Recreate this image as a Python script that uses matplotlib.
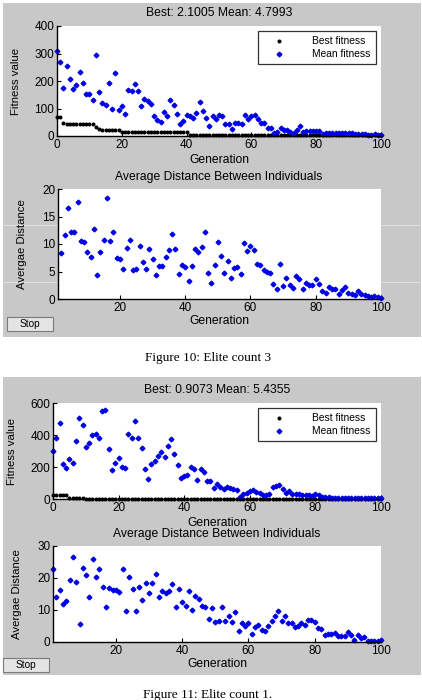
import numpy as np
import matplotlib
matplotlib.use("Agg")
import matplotlib.pyplot as plt
from matplotlib.patches import Rectangle
import matplotlib.lines as mlines

plt.rcParams['font.family'] = ['Liberation Sans', 'DejaVu Sans']

# Figure 10: Elite count 3
best1 = [70, 70, 48] + [42] * 9 + [32, 25] + [22] * 6 + [13] * 21 + [5] * 19 + [3] * 41
mean1 = [309, 268, 173, 255, 206, 171, 185, 234, 192, 152, 152, 131, 295, 161, 121, 111, 192, 99, 228, 95,
         109, 79, 167, 164, 188, 164, 109, 133, 127, 115, 73, 58, 52, 86, 74, 131, 113, 79, 42, 55,
         76, 74, 65, 82, 122, 91, 67, 38, 72, 61, 75, 73, 45, 45, 24, 47, 46, 42, 75, 63,
         72, 75, 61, 46, 48, 28, 30, 10, 16, 30, 22, 22, 16, 12, 22, 36, 16, 18, 19, 19,
         19, 19, 8, 12, 10, 12, 11, 12, 10, 12, 11, 10, 9, 8, 9, 6, 5, 5, 7, 5, 4.8]
dist1 = [8.3, 11.7, 16.5, 12.2, 12.2, 17.6, 10.6, 10.4, 8.6, 7.6, 12.7, 4.3, 8.6, 10.7, 18.4, 10.6,
         12.1, 7.5, 7.3, 5.5, 9.3, 10.7, 5.2, 5.5, 9.7, 6.7, 5.5, 9.1, 7.3, 4.4, 6.0, 6.0, 7.7, 9.0,
         11.8, 9.1, 4.5, 6.2, 5.9, 3.2, 6.0, 9.1, 8.6, 9.5, 12.2, 4.7, 2.9, 6.2, 10.3, 7.9, 4.7, 7.0,
         3.9, 5.7, 5.9, 4.5, 10.2, 8.8, 9.7, 8.9, 6.3, 6.1, 5.2, 5.0, 4.8, 2.7, 1.9, 6.3, 2.4, 3.8,
         2.5, 2.0, 4.1, 3.6, 1.9, 2.9, 2.6, 2.6, 3.7, 2.7, 1.4, 1.1, 2.1, 1.9, 1.9, 0.9, 1.6, 2.1,
         1.1, 0.85, 0.8, 1.4, 1.0, 0.7, 0.6, 0.4, 0.6, 0.4, 0.25]

# Figure 11: Elite count 1
best2 = [24] * 5 + [6] * 5 + [1] * 91
mean2 = [300, 379, 477, 217, 196, 248, 227, 364, 504, 462, 327, 348, 400, 404, 379, 550, 554, 310, 181, 227,
         258, 200, 196, 404, 383, 487, 383, 321, 185, 123, 217, 238, 267, 292, 263, 331, 373, 279, 210, 133,
         144, 148, 200, 185, 121, 190, 167, 113, 110, 67, 96, 75, 60, 75, 70, 63, 59, 15, 31, 35,
         48, 59, 44, 38, 27, 27, 30, 75, 81, 90, 65, 40, 48, 31, 29, 29, 27, 25, 25, 21,
         31, 25, 15, 10, 10, 8, 8, 7, 8, 7, 8, 6, 6, 6, 5, 6, 5, 5, 6, 5, 5.4]
dist2 = [22.7, 14.0, 16.2, 12.0, 12.8, 19.3, 26.5, 18.9, 5.7, 23.1, 20.9, 14.0, 26.0, 20.4, 22.9, 17.1,
         11.0, 16.8, 16.2, 16.2, 15.7, 22.7, 9.8, 20.2, 16.6, 9.6, 17.3, 13.0, 18.5, 15.3, 18.5, 21.4,
         14.0, 15.8, 15.3, 15.8, 18.2, 10.8, 16.7, 12.5, 11.2, 16.0, 10.1, 14.5, 13.3, 11.1, 10.8, 7.2,
         10.6, 6.1, 6.7, 10.8, 6.7, 8.2, 6.1, 9.4, 3.3, 5.8, 5.1, 6.0, 2.6, 4.6, 5.2, 3.8, 3.5, 5.0,
         6.7, 8.0, 9.6, 6.5, 8.0, 5.8, 6.0, 4.6, 5.1, 5.9, 5.2, 6.8, 6.8, 6.4, 4.3, 4.1, 2.3, 2.5,
         2.4, 2.7, 1.9, 2.0, 2.0, 3.0, 2.3, 0.7, 2.3, 1.2, 1.7, 0.4, 0.4, 0.4, 0.4, 0.6]

titles = ["Best: 2.1005 Mean: 4.7993", "Best: 0.9073 Mean: 5.4355"]
captions = ["Figure 10: Elite count 3", "Figure 11: Elite count 1."]

W, H = 422.0, 700.0
fig = plt.figure(figsize=(4.22, 7.0), dpi=100)
fig.patch.set_facecolor("white")

def fx(x):
    return x / W

def fy(y):
    return 1 - y / H

# gray window backgrounds
fig.patches.append(Rectangle((fx(3), fy(337)), fx(418), 334 / H, transform=fig.transFigure,
                             facecolor="#c8c8c8", edgecolor="none", zorder=-2))
fig.patches.append(Rectangle((fx(3), fy(675)), fx(418), 298 / H, transform=fig.transFigure,
                             facecolor="#c8c8c8", edgecolor="none", zorder=-2))
# faint scan lines
for yy in [225, 282]:
    fig.add_artist(mlines.Line2D([fx(3), fx(421)], [fy(yy), fy(yy)], transform=fig.transFigure,
                                 color="white", lw=0.6, alpha=0.5, zorder=-1))

def style_ax(ax):
    ax.set_zorder(2)
    ax.set_facecolor("white")
    ax.spines["top"].set_visible(False)
    ax.spines["right"].set_visible(False)
    ax.spines["left"].set_linewidth(1.0)
    ax.spines["bottom"].set_linewidth(1.0)
    ax.tick_params(direction="in", length=3, width=0.8, labelsize=8.5, pad=2, colors="black")

def add_ax(x0, y0, x1, y1):
    return fig.add_axes([fx(x0), fy(y1), (x1 - x0) / W, (y1 - y0) / H])

blue = "#0000e6"
panels = [
    (best1, mean1, dist1, (57, 26, 381, 136), (58, 189, 381, 299), 400, [0, 100, 200, 300, 400], 20,
     [0, 5, 10, 15, 20], 0),
    (best2, mean2, dist2, (53, 403, 381, 499), (53, 546, 381, 642), 600, [0, 200, 400, 600], 30,
     [0, 10, 20, 30], 1),
]

for best, mean, dist, box1, box2, ymax, yt, dmax, dt, k in panels:
    gens = np.arange(len(mean))
    ax = add_ax(*box1)
    style_ax(ax)
    ax.plot(gens, best, linestyle="None", marker="o", ms=1.9, color="black", label="Best fitness", clip_on=False)
    ax.plot(gens, mean, linestyle="None", marker="D", ms=2.4, color=blue, label="Mean fitness", clip_on=False)
    ax.set_xlim(0, 100)
    ax.set_ylim(0, ymax)
    ax.set_xticks([0, 20, 40, 60, 80, 100])
    ax.set_yticks(yt)
    cx = (box1[0] + box1[2]) / 2
    fig.text(fx(cx), fy(box1[1] - 13), titles[k], ha="center", va="center", fontsize=8.7)
    fig.text(fx(cx), fy(box1[3] + 24), "Generation", ha="center", va="center", fontsize=8.7)
    fig.text(fx(box1[0] - 41), fy((box1[1] + box1[3]) / 2), "Fitness value", rotation=90,
             ha="center", va="center", fontsize=8.2)
    leg = ax.legend(loc="upper right", bbox_to_anchor=(fx(376), fy(box1[1] + 5)), bbox_transform=fig.transFigure,
                    fontsize=7.4, frameon=True, fancybox=False, edgecolor="black", borderpad=0.5,
                    borderaxespad=0, handletextpad=1.8, labelspacing=0.3, handlelength=3.0, markerscale=1.0)
    leg.get_frame().set_linewidth(0.9)

    dg = np.arange(len(dist)) + (101 - len(dist))
    ax2 = add_ax(*box2)
    style_ax(ax2)
    ax2.plot(dg, dist, linestyle="None", marker="D", ms=2.4, color=blue, clip_on=False)
    ax2.set_xlim(1, 100)
    ax2.set_ylim(0, dmax)
    ax2.set_xticks([20, 40, 60, 80, 100])
    ax2.set_yticks(dt)
    fig.text(fx(cx), fy(box2[1] - 12), "Average Distance Between Individuals", ha="center", va="center",
             fontsize=8.7)
    fig.text(fx(cx), fy(box2[3] + 22), "Generation", ha="center", va="center", fontsize=8.7)
    fig.text(fx(box2[0] - 36), fy((box2[1] + box2[3]) / 2), "Avergae Distance", rotation=90,
             ha="center", va="center", fontsize=8.2)

# Stop buttons
for bx, by in [(7, 317), (3, 658)]:
    fig.patches.append(Rectangle((fx(bx), fy(by + 14)), 46 / W, 14 / H, transform=fig.transFigure,
                                 facecolor="#e4e4e4", edgecolor="#7a7a7a", linewidth=0.8, zorder=1))
    fig.text(fx(bx + 23), fy(by + 7), "Stop", ha="center", va="center", fontsize=7.3)

# captions
fig.text(fx(208), fy(358), captions[0], ha="center", va="center", fontsize=9.5, family="Liberation Serif")
fig.text(fx(208), fy(695), captions[1], ha="center", va="center", fontsize=9.5, family="Liberation Serif")

plt.savefig("out.png", dpi=100)
